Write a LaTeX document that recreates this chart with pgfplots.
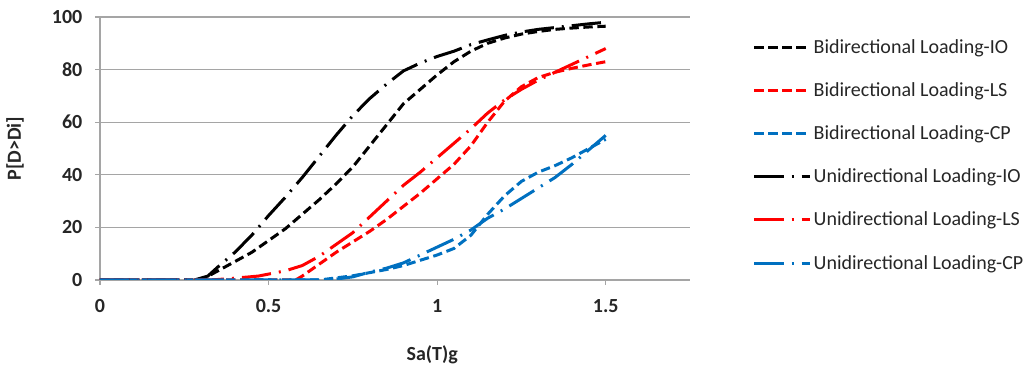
\documentclass[border=0pt]{standalone}
\usepackage{pgfplots}
\pgfplotsset{compat=1.18}
\usepackage{fontspec}
\setmainfont{Carlito}
\definecolor{xlblue}{RGB}{0,112,192}
\definecolor{xlred}{RGB}{255,0,0}
\definecolor{gridgray}{RGB}{165,165,165}
\begin{document}
\begin{tikzpicture}
\useasboundingbox (0pt,0pt) rectangle (769.5pt,276pt);
\begin{axis}[
  at={(75pt,66pt)}, anchor=south west,
  scale only axis, width=442.5pt, height=197.25pt,
  xmin=0, xmax=1.75, ymin=0, ymax=100,
  axis x line*=bottom, axis y line*=left,
  axis line style={gridgray, line width=0.8pt, -},
  ymajorgrids, grid style={gridgray, line width=0.8pt},
  xtick={0,0.5,1,1.5}, xticklabels={0,0.5,1,1.5},
  ytick={0,20,40,60,80,100},
  tick align=outside, major tick length=3.75pt,
  tick style={gridgray, line width=0.8pt},
  /pgf/number format/assume math mode=true,
  ticklabel style={font=\bfseries\fontsize{15}{18}\selectfont, text=black!85},
  xticklabel style={yshift=-7.5pt},
  yticklabel style={xshift=-6pt},
  xlabel={Sa(T)g}, ylabel={P[D>Di]},
  label style={font=\bfseries\fontsize{15}{18}\selectfont, text=black!85},
  xlabel style={at={(axis description cs:0.563,-0.285)}, anchor=center},
  ylabel style={at={(axis description cs:-0.144,0.5)}, anchor=center},
  legend style={at={(axis description cs:1.099,0.937)}, anchor=north west, draw=none, fill=none,
    font=\fontsize{15}{18}\selectfont, row sep=16.5pt, text=black!85,
    nodes={inner xsep=1.5pt}},
  legend cell align=left,
  legend image code/.code={\draw[#1] (0pt,0pt) -- (42pt,0pt);},
  every axis plot/.append style={line width=2.25pt, line cap=butt},
]
\addplot[black, dash pattern=on 7pt off 3.5pt] coordinates {
(0,0) (0.25,0) (0.3,0) (0.35,3.5) (0.4,7) (0.45,10.5) (0.5,15) (0.55,19.5) (0.6,25) (0.65,30.5) (0.7,36.5) (0.75,43) (0.8,51) (0.85,59) (0.9,67) (0.95,72.5) (1.0,78) (1.05,83) (1.1,87) (1.15,90) (1.2,92) (1.25,93.5) (1.3,94.5) (1.35,95.3) (1.4,95.8) (1.45,96.2) (1.5,96.5)};
\addlegendentry{Bidirectional Loading-IO}
\addplot[xlred, dash pattern=on 7pt off 3.5pt] coordinates {
(0,0) (0.58,0) (0.6,1.5) (0.65,6) (0.7,10.5) (0.75,14.5) (0.8,18.5) (0.85,23) (0.9,28) (0.95,33) (1.0,38.5) (1.05,44) (1.1,51) (1.15,60) (1.2,68) (1.25,73.5) (1.3,77) (1.35,79) (1.4,80.5) (1.45,81.8) (1.5,83)};
\addlegendentry{Bidirectional Loading-LS}
\addplot[xlblue, dash pattern=on 7pt off 3.5pt] coordinates {
(0,0) (0.65,0) (0.7,0.8) (0.75,1.6) (0.8,2.8) (0.85,4) (0.9,5.5) (0.95,7.5) (1.0,9.5) (1.05,12) (1.1,17) (1.15,25) (1.2,32) (1.25,37.5) (1.3,41) (1.35,43.5) (1.4,46.5) (1.45,50) (1.5,53.5)};
\addlegendentry{Bidirectional Loading-CP}
\addplot[black, dash pattern=on 22pt off 6pt on 1.5pt off 6pt] coordinates {
(0,0) (0.28,0) (0.32,1.5) (0.35,5) (0.4,10.5) (0.45,17) (0.5,24.5) (0.55,31.5) (0.6,39) (0.65,47) (0.7,55) (0.75,62.5) (0.8,69) (0.85,74.5) (0.9,79.5) (0.95,82.5) (1.0,85) (1.05,87) (1.1,89.5) (1.15,91.3) (1.2,93) (1.25,94.3) (1.3,95.3) (1.35,96) (1.4,96.7) (1.45,97.4) (1.5,98)};
\addlegendentry{Unidirectional Loading-IO}
\addplot[xlred, dash pattern=on 22pt off 6pt on 1.5pt off 6pt] coordinates {
(0,0) (0.33,0) (0.4,0.7) (0.47,1.5) (0.55,3.5) (0.6,5.5) (0.65,9) (0.7,13.5) (0.75,18) (0.8,24) (0.85,30) (0.9,36) (0.95,41) (1.0,46.5) (1.05,52) (1.1,57.5) (1.15,63.5) (1.2,68.5) (1.25,72.5) (1.3,76) (1.35,79) (1.4,82) (1.45,85) (1.5,88)};
\addlegendentry{Unidirectional Loading-LS}
\addplot[xlblue, dash pattern=on 22pt off 6pt on 1.5pt off 6pt] coordinates {
(0,0) (0.68,0) (0.75,1.2) (0.8,3) (0.85,4.5) (0.9,6.5) (0.95,9.5) (1.0,12.5) (1.05,15.5) (1.1,19) (1.15,23.5) (1.2,27) (1.25,31) (1.3,35) (1.35,39) (1.4,44) (1.45,49.5) (1.5,55)};
\addlegendentry{Unidirectional Loading-CP}
\end{axis}
\end{tikzpicture}
\end{document}
